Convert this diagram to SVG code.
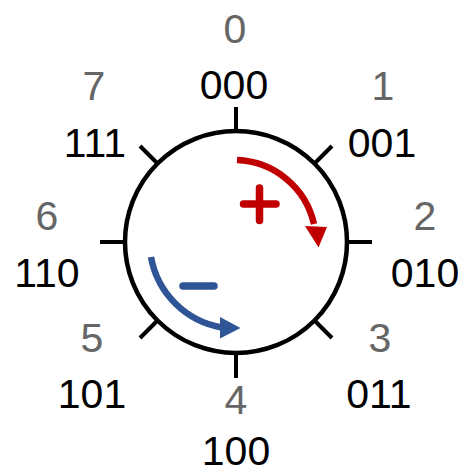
<svg xmlns="http://www.w3.org/2000/svg" width="464" height="474" viewBox="0 0 464 474">
<style>
text{font-family:"Liberation Sans",Arial,sans-serif;font-size:41px;text-anchor:middle}
.n{fill:#666666}
.c{fill:#000000}
.tick{stroke:#000;stroke-width:4;fill:none}
</style>
<rect width="464" height="474" fill="#ffffff"/>
<g id="wheel">
<circle cx="236" cy="242" r="111" fill="#ffffff" stroke="#000" stroke-width="4.5"/>
</g>
<g id="ticks">
<line class="tick" x1="236" y1="131" x2="236" y2="107"/>
<line class="tick" x1="314.5" y1="163.5" x2="332" y2="146"/>
<line class="tick" x1="347" y1="242" x2="372" y2="242"/>
<line class="tick" x1="314.5" y1="320.5" x2="332" y2="338"/>
<line class="tick" x1="236" y1="353" x2="236" y2="378"/>
<line class="tick" x1="157.5" y1="320.5" x2="140" y2="338"/>
<line class="tick" x1="125" y1="242" x2="100" y2="242"/>
<line class="tick" x1="157.5" y1="163.5" x2="140" y2="146"/>
</g>
<g id="plus-arrow">
<path d="M237 160 A82 82 0 0 1 314 224" fill="none" stroke="#C00000" stroke-width="6.5"/>
<polygon points="305,226 327,227 318.5,247.5" fill="#C00000"/>
<path d="M243.5 204 H276 M259.5 188 V220.5" stroke="#C00000" stroke-width="7.5" stroke-linecap="round" fill="none"/>
</g>
<g id="minus-arrow">
<path d="M151 257 A87 87 0 0 0 222 327.5" fill="none" stroke="#2F5597" stroke-width="6.5"/>
<polygon points="220,317 220,338.5 240.5,328" fill="#2F5597"/>
<path d="M183 286 H214" stroke="#2F5597" stroke-width="7.5" stroke-linecap="round" fill="none"/>
</g>
<g id="pos0"><text class="n" x="235" y="43">0</text><text class="c" x="234" y="99">000</text></g>
<g id="pos1"><text class="n" x="383" y="100">1</text><text class="c" x="382" y="157">001</text></g>
<g id="pos2"><text class="n" x="425" y="230">2</text><text class="c" x="425" y="287">010</text></g>
<g id="pos3"><text class="n" x="380" y="352">3</text><text class="c" x="379" y="408">011</text></g>
<g id="pos4"><text class="n" x="236" y="414">4</text><text class="c" x="236" y="465">100</text></g>
<g id="pos5"><text class="n" x="92" y="352">5</text><text class="c" x="92" y="408">101</text></g>
<g id="pos6"><text class="n" x="47" y="230">6</text><text class="c" x="47" y="287">110</text></g>
<g id="pos7"><text class="n" x="94" y="100">7</text><text class="c" x="95" y="157">111</text></g>
</svg>
